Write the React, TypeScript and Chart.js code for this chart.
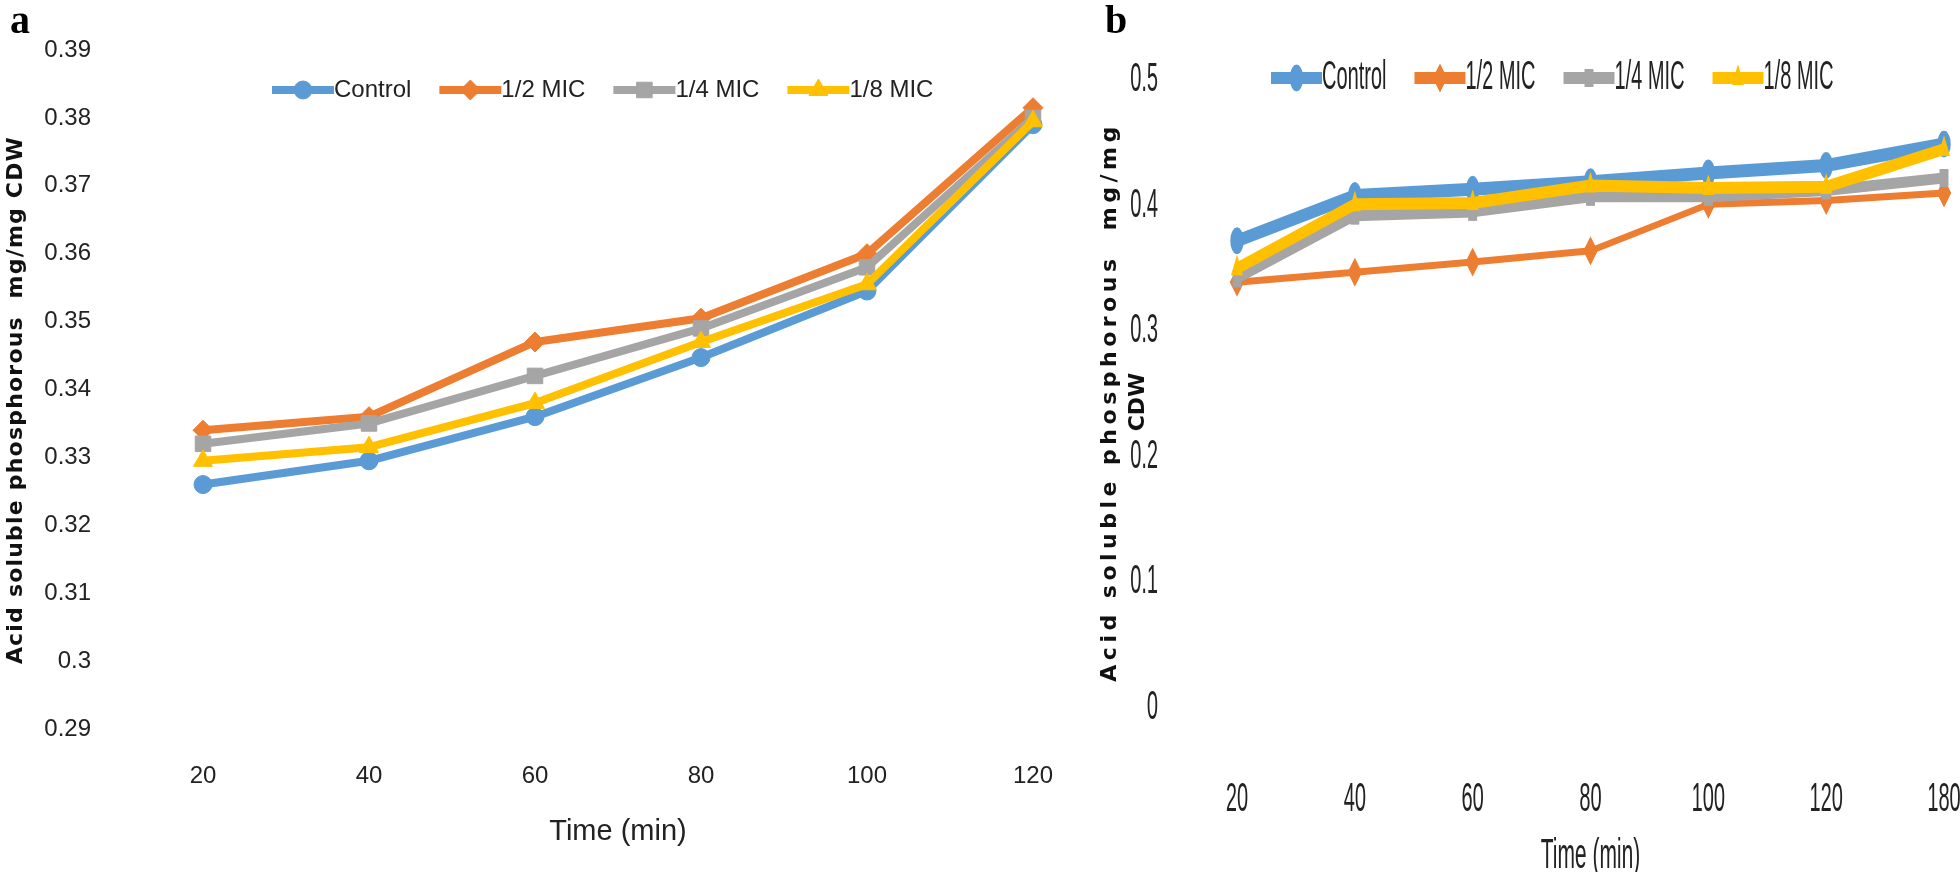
import React, { useEffect, useRef } from 'react';
import { Chart, registerables } from 'chart.js';
import { drawPoint } from 'chart.js/helpers';

Chart.register(...registerables);

// ---------- shared series meta ----------
const seriesNames = ['Control', '1/2 MIC', '1/4 MIC', '1/8 MIC'];
const seriesColors = ['#5B9BD5', '#ED7D31', '#A5A5A5', '#FFC000'];
const seriesMarkers = ['circle', 'rectRot', 'rect', 'triangle'];

// ---------- panel a data ----------
const timesA = ['20', '40', '60', '80', '100', '120'];
const controlA = [0.326, 0.3295, 0.336, 0.3447, 0.3545, 0.379];
const halfMicA = [0.334, 0.336, 0.347, 0.3505, 0.36, 0.3815];
const quarterMicA = [0.332, 0.335, 0.342, 0.349, 0.358, 0.38];
const eighthMicA = [0.3295, 0.3315, 0.338, 0.347, 0.3555, 0.3795];
const yTicksA = [0.29, 0.3, 0.31, 0.32, 0.33, 0.34, 0.35, 0.36, 0.37, 0.38, 0.39];

// ---------- panel b data ----------
const timesB = ['20', '40', '60', '80', '100', '120', '180'];
const controlB = [0.372, 0.408, 0.413, 0.419, 0.426, 0.432, 0.449];
const halfMicB = [0.339, 0.347, 0.355, 0.364, 0.401, 0.404, 0.41];
const quarterMicB = [0.342, 0.392, 0.395, 0.407, 0.407, 0.412, 0.422];
const eighthMicB = [0.35, 0.401, 0.402, 0.416, 0.414, 0.415, 0.445];
const yTicksB = [0, 0.1, 0.2, 0.3, 0.4, 0.5];

const yTitleA = 'Acid soluble phosphorous  mg/mg CDW';
const yTitleB1 = 'Acid soluble phosphorous  mg/mg';
const yTitleB2 = 'CDW';
const xTitle = 'Time (min)';

const fmt = (v: any) => String(Number(Number(v).toFixed(2)));

const SANS = '"Liberation Sans", Arial, sans-serif';

const overlayLegend = {
  id: 'overlayLegend',
  afterDatasetsDraw(chart: any, _args: any, opts: any) {
    const ctx = chart.ctx;
    let x = opts.x;
    const y = opts.y;
    ctx.save();
    ctx.font = opts.font;
    ctx.textBaseline = 'middle';
    ctx.textAlign = 'left';
    chart.data.datasets.forEach((ds: any) => {
      ctx.strokeStyle = ds.borderColor;
      ctx.lineWidth = opts.lineWidth || ds.borderWidth;
      ctx.lineCap = 'butt';
      ctx.beginPath();
      ctx.moveTo(x, y);
      ctx.lineTo(x + opts.lineLen, y);
      ctx.stroke();
      ctx.fillStyle = ds.pointBackgroundColor;
      ctx.strokeStyle = ds.pointBorderColor;
      ctx.lineWidth = 1;
      drawPoint(ctx, { pointStyle: ds.pointStyle, radius: ds.pointRadius, rotation: 0, borderWidth: 1 } as any, x + opts.lineLen / 2, y);
      x += opts.lineLen + opts.textGap;
      ctx.fillStyle = opts.color;
      ctx.fillText(ds.label, x, y);
      x += ctx.measureText(ds.label).width + opts.itemGap;
    });
    ctx.restore();
  },
};

function buildDatasets(series: number[][], widths: number[], radii: number[]) {
  return series.map((d, i) => ({
    label: seriesNames[i],
    data: d,
    borderColor: seriesColors[i],
    backgroundColor: seriesColors[i],
    pointBackgroundColor: seriesColors[i],
    pointBorderColor: seriesColors[i],
    pointStyle: seriesMarkers[i],
    pointRadius: radii[i],
    pointBorderWidth: 1,
    borderWidth: widths[i],
    borderJoinStyle: 'round',
    tension: 0,
    order: series.length - 1 - i,
  }));
}

function configA(): any {
  return {
    type: 'line',
    data: {
      labels: timesA,
      datasets: buildDatasets([controlA, halfMicA, quarterMicA, eighthMicA], [8, 8, 8, 8], [9, 10, 11, 11]),
    },
    plugins: [overlayLegend],
    options: {
      responsive: false,
      animation: false,
      devicePixelRatio: 1,
      events: [],
      layout: { padding: { top: 50, right: 47, left: 0, bottom: 0 } },
      plugins: {
        legend: { display: false },
        tooltip: { enabled: false },
        overlayLegend: { x: 272, y: 90, lineLen: 62, textGap: 0, itemGap: 28, font: '24px ' + SANS, color: '#222' },
      },
      scales: {
        x: {
          type: 'category',
          offset: false,
          grid: { display: false, drawTicks: false },
          border: { display: false },
          ticks: { color: '#222', font: { family: SANS, size: 24, lineHeight: 1 }, padding: 35, maxRotation: 0, autoSkip: false },
          title: { display: true, text: xTitle, color: '#222', font: { family: SANS, size: 29, lineHeight: 1 }, padding: { top: 0, bottom: 26 } },
          afterFit: (s: any) => { s.height = 143; s.paddingLeft = 0; s.paddingRight = 0; },
        },
        y: {
          min: 0.29,
          max: 0.39,
          grid: { display: false, drawTicks: false },
          border: { display: false },
          afterBuildTicks: (s: any) => { s.ticks = yTicksA.map((v) => ({ value: v })); },
          ticks: { color: '#222', callback: fmt, font: { family: SANS, size: 24, lineHeight: 1 }, padding: 112 },
          title: { display: false },
          afterFit: (s: any) => { s.width = 203; s.paddingTop = 0; s.paddingBottom = 0; },
        },
      },
    },
  };
}

function configB(): any {
  return {
    type: 'line',
    data: {
      labels: timesB,
      datasets: buildDatasets([controlB, halfMicB, quarterMicB, eighthMicB], [13, 7, 11, 12], [13, 14, 12, 13]),
    },
    plugins: [overlayLegend],
    options: {
      responsive: false,
      animation: false,
      devicePixelRatio: 1,
      events: [],
      layout: { padding: { top: 80, right: 32, left: 0, bottom: 0 } },
      plugins: {
        legend: { display: false },
        tooltip: { enabled: false },
        overlayLegend: { x: 382, y: 78, lineLen: 102, textGap: 0, itemGap: 56, lineWidth: 12, font: '40px ' + SANS, color: '#222' },
      },
      scales: {
        x: {
          type: 'category',
          offset: false,
          grid: { display: false, drawTicks: false },
          border: { display: false },
          ticks: { color: '#222', font: { family: SANS, size: 40, lineHeight: 1 }, padding: 72, maxRotation: 0, autoSkip: false },
          title: { display: true, text: xTitle, color: '#222', font: { family: SANS, size: 42, lineHeight: 1 }, padding: { top: 0, bottom: -5 } },
          afterFit: (s: any) => { s.height = 164; s.paddingLeft = 0; s.paddingRight = 0; },
        },
        y: {
          min: 0,
          max: 0.5,
          grid: { display: false, drawTicks: false },
          border: { display: false },
          afterBuildTicks: (s: any) => { s.ticks = yTicksB.map((v) => ({ value: v })); },
          ticks: { color: '#222', callback: fmt, font: { family: SANS, size: 40, lineHeight: 1 }, padding: 158 },
          title: { display: false },
          afterFit: (s: any) => { s.width = 314; s.paddingTop = 0; s.paddingBottom = 0; },
        },
      },
    },
  };
}

export default function App() {
  const refA = useRef<HTMLCanvasElement>(null);
  const refB = useRef<HTMLCanvasElement>(null);

  useEffect(() => {
    const a = new Chart(refA.current as HTMLCanvasElement, configA());
    const b = new Chart(refB.current as HTMLCanvasElement, configB());
    return () => { a.destroy(); b.destroy(); };
  }, []);

  const panelLetter: React.CSSProperties = {
    position: 'absolute', top: 0, font: 'bold 40px "Liberation Serif"', lineHeight: '40px', color: '#000',
  };
  const rotated = (cx: number, cy: number, w: number, h: number): React.CSSProperties => ({
    position: 'absolute', left: cx - w / 2, top: cy - h / 2, width: w, height: h,
    transform: 'rotate(-90deg)', transformOrigin: '50% 50%', textAlign: 'center',
    font: 'bold 22px "DejaVu Sans"', whiteSpace: 'pre', color: '#111',
  });

  return (
    <div style={{ position: 'absolute', left: 0, top: 0, width: 1960, height: 872, background: '#fff', overflow: 'hidden' }}>
      <canvas ref={refA} width={1080} height={872} style={{ position: 'absolute', left: 0, top: 0, width: '1080px', height: '872px' }} />
      <canvas ref={refB} width={1760} height={872} style={{ position: 'absolute', left: 1080, top: 0, width: '880px', height: '872px' }} />
      <div style={{ ...panelLetter, left: 10 }}>a</div>
      <div style={{ ...panelLetter, left: 1105 }}>b</div>
      <div style={{ ...rotated(15, 400, 700, 28), lineHeight: '28px', letterSpacing: '1.2px' }}>{yTitleA}</div>
      <div style={{ ...rotated(1123, 402, 700, 56), lineHeight: '28px' }}>
        <div style={{ letterSpacing: '4.5px' }}>{yTitleB1}</div>
        <div>{yTitleB2}</div>
      </div>
    </div>
  );
}
